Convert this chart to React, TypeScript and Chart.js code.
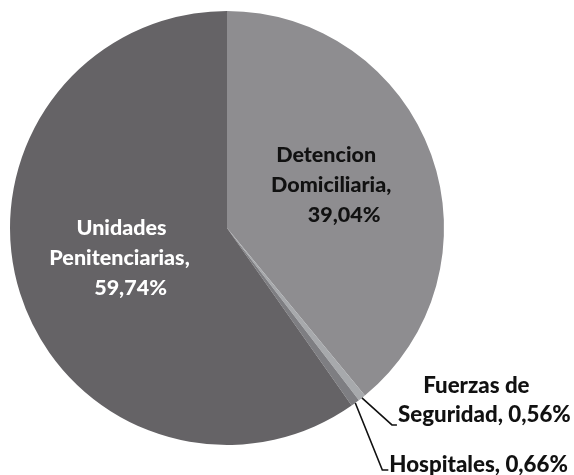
import React, { useEffect, useRef } from "react";
import { Chart, registerables } from "chart.js";

Chart.register(...registerables);

const categories = [
  "Detencion Domiciliaria",
  "Fuerzas de Seguridad",
  "Hospitales",
  "Unidades Penitenciarias",
];
const values = [39.04, 0.56, 0.66, 59.74];
const labelLines = [
  ["Detencion", "Domiciliaria,", "39,04%"],
  ["Fuerzas de", "Seguridad, 0,56%"],
  ["Hospitales, 0,66%"],
  ["Unidades", "Penitenciarias,", "59,74%"],
];
const colors = ["#8e8d90", "#a7a9ac", "#7e7e82", "#656366"];
const textColors = ["#111111", "#111111", "#111111", "#ffffff"];

const FONT = "Lato";

const labelPlugin = {
  id: "customLabels",
  afterDatasetsDraw(chart: any) {
    const ctx = chart.ctx as CanvasRenderingContext2D;
    const meta = chart.getDatasetMeta(0);
    ctx.save();
    meta.data.forEach((arc: any, i: number) => {
      const lines = labelLines[i];
      const p = arc.getProps(["x", "y", "startAngle", "endAngle", "outerRadius"], true);
      const mid = (p.startAngle + p.endAngle) / 2;
      ctx.fillStyle = textColors[i];
      ctx.textBaseline = "alphabetic";
      if (i === 0 || i === 3) {
        const c = arc.getCenterPoint();
        const xo = i === 0 ? [-3, 2, 15] : [-2, -4, 7];
        const yo = i === 0 ? -29 : -26;
        ctx.font = `900 21.5px ${FONT}`;
        ctx.textAlign = "center";
        lines.forEach((l: string, k: number) => {
          ctx.fillText(l, c.x + xo[k], c.y + yo + k * 30);
        });
      } else {
        const ex = p.x + p.outerRadius * Math.cos(mid);
        const ey = p.y + p.outerRadius * Math.sin(mid);
        const elbow = i === 1 ? [30, 27] : [27, 67];
        const tail = i === 1 ? 5 : 6;
        ctx.strokeStyle = "#111111";
        ctx.lineWidth = 1.6;
        ctx.beginPath();
        ctx.moveTo(ex, ey);
        ctx.lineTo(ex + elbow[0], ey + elbow[1]);
        ctx.lineTo(ex + elbow[0] + tail, ey + elbow[1]);
        ctx.stroke();
        const tx = ex + elbow[0] + tail + 1;
        const ty = ey + elbow[1] - 3;
        ctx.font = `900 22.3px ${FONT}`;
        if (i === 1) {
          ctx.textAlign = "left";
          ctx.fillText(lines[1], tx, ty);
          const w = ctx.measureText(lines[1]).width;
          ctx.textAlign = "center";
          ctx.fillText(lines[0], tx + w / 2 - 8, ty - 29);
        } else {
          ctx.textAlign = "left";
          ctx.fillText(lines[0], tx, ty + 5);
        }
      }
    });
    ctx.restore();
  },
};

export default function App() {
  const ref = useRef<HTMLCanvasElement>(null);
  useEffect(() => {
    document.body.style.margin = "0";
    const chart = new Chart(ref.current!, {
      type: "pie",
      data: {
        labels: categories,
        datasets: [
          {
            data: values,
            backgroundColor: colors,
            borderWidth: 0,
          },
        ],
      },
      options: {
        animation: false,
        responsive: false,
        layout: { padding: { left: 10, right: 130, top: 11, bottom: 30 } },
        plugins: {
          legend: { display: false },
          tooltip: { enabled: false },
        },
      },
      plugins: [labelPlugin],
    });
    return () => chart.destroy();
  }, []);
  return (
    <div style={{ position: "absolute", left: 0, top: 0, width: 574, height: 475, background: "#ffffff" }}>
      <canvas ref={ref} width={574} height={475} />
    </div>
  );
}
